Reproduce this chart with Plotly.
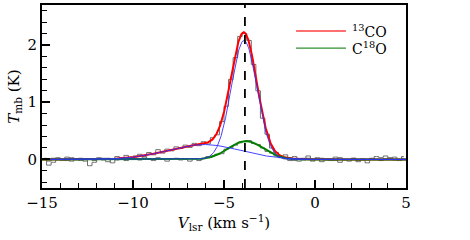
import numpy as np
import plotly.graph_objects as go

# channel centres (km/s)
v_chan = [-14.875 + 0.25 * i for i in range(80)]

co13_T = [0.02, -0.10, -0.05, 0.03, -0.02, 0.04, -0.03, 0.01, -0.02, 0.00,
          -0.11, -0.05, 0.03, -0.01, 0.02, -0.06, 0.05, 0.02, 0.07, 0.01,
          0.06, 0.09, 0.05, 0.12, 0.08, 0.17, 0.11, 0.18, 0.15, 0.22,
          0.19, 0.25, 0.21, 0.28, 0.24, 0.31, 0.27, 0.38, 0.43, 0.66,
          0.93, 1.40, 1.78, 2.15, 2.20, 2.08, 1.66, 1.20, 0.72, 0.44,
          0.20, 0.12, 0.03, 0.08, -0.02, 0.05, -0.03, 0.02, 0.06, -0.01,
          0.03, -0.04, 0.01, -0.02, 0.04, -0.05, 0.00, -0.03, 0.02, -0.04,
          -0.01, -0.06, 0.01, 0.05, 0.03, 0.06, 0.02, 0.04, -0.02, 0.05]

c18o_T = [0.01, -0.03, 0.02, -0.01, 0.00, -0.02, 0.03, -0.01, 0.02, -0.03,
          0.01, -0.02, 0.00, 0.02, -0.04, 0.01, -0.01, 0.03, -0.02, 0.00,
          0.02, -0.01, 0.04, 0.01, -0.02, 0.03, 0.00, -0.03, 0.01, 0.02,
          -0.01, 0.00, -0.03, 0.01, -0.02, 0.02, 0.05, 0.06, 0.09, 0.10,
          0.18, 0.21, 0.25, 0.29, 0.31, 0.33, 0.28, 0.26, 0.20, 0.14,
          0.11, 0.06, 0.05, 0.01, 0.03, -0.02, 0.01, -0.01, 0.02, -0.03,
          0.00, 0.02, -0.01, 0.01, -0.02, 0.03, -0.01, 0.00, 0.02, -0.02,
          0.01, -0.01, 0.02, 0.00, -0.02, 0.01, 0.03, -0.01, 0.00, 0.02]

# Gaussian fit components: (amplitude K, centre km/s, sigma km/s)
co13_narrow = [2.08, -3.90, 0.70]
co13_broad = [0.26, -6.10, 2.00]
c18o_fit = [0.32, -3.80, 0.95]

v_ref = -3.85

legend_names = ["<sup>13</sup>CO", "C<sup>18</sup>O"]
legend_colors = ["#ff4040", "#309030"]

def gauss(v, p):
    a, c, s = p
    return a * np.exp(-(v - c) ** 2 / (2 * s ** 2))

vf = np.linspace(-15, 5, 801)
n1 = gauss(vf, co13_narrow)
b1 = gauss(vf, co13_broad)
red = n1 + b1
grn = gauss(vf, c18o_fit)

fig = go.Figure()
fig.add_trace(go.Scatter(x=v_chan, y=co13_T, mode="lines", line=dict(shape="hvh", color="#6f6f6f", width=1), showlegend=False))
fig.add_trace(go.Scatter(x=v_chan, y=c18o_T, mode="lines", line=dict(shape="hvh", color="#6f6f6f", width=1), showlegend=False))
fig.add_trace(go.Scatter(x=vf, y=red, mode="lines", line=dict(color="#ff0000", width=2), showlegend=False))
fig.add_trace(go.Scatter(x=vf, y=grn, mode="lines", line=dict(color="#008000", width=2), showlegend=False))
fig.add_trace(go.Scatter(x=vf, y=n1, mode="lines", line=dict(color="#3030ff", width=0.9), showlegend=False))
fig.add_trace(go.Scatter(x=vf, y=b1, mode="lines", line=dict(color="#3030ff", width=0.9), showlegend=False))

fig.add_vline(x=v_ref, line=dict(color="black", width=1.8, dash="dash"))

font = "DejaVu Serif"

# manual legend (paper coordinates)
leg_y = [0.858, 0.764]
for name, col, yy in zip(legend_names, legend_colors, leg_y):
    fig.add_shape(type="line", xref="paper", yref="paper", x0=0.698, x1=0.835, y0=yy, y1=yy,
                  line=dict(color=col, width=1.3))
    fig.add_annotation(xref="paper", yref="paper", x=0.846, y=yy, text=name, showarrow=False,
                       xanchor="left", yanchor="middle", font=dict(family=font, size=14, color="black"))

axis_common = dict(showgrid=False, zeroline=False, showline=True, linecolor="black", linewidth=2,
                   mirror=True, ticks="inside", tickcolor="black", tickwidth=1.5, ticklen=8,
                   automargin=False,
                   tickfont=dict(family=font, size=15, color="black"))
fig.update_xaxes(range=[-15, 5], dtick=5, tick0=-15,
                 minor=dict(ticks="inside", dtick=1, ticklen=5, tickcolor="black", tickwidth=1.2),
                 title=dict(text="<i>V</i><sub>lsr</sub> (km s<sup>−1</sup>)", font=dict(family=font, size=15, color="black"), standoff=2),
                 **axis_common)
fig.update_yaxes(range=[-0.5, 2.7], dtick=1, tick0=0,
                 minor=dict(ticks="inside", dtick=0.2, ticklen=5, tickcolor="black", tickwidth=1.2),
                 title=dict(text="<i>T</i><sub>mb</sub> (K)", font=dict(family=font, size=15, color="black"), standoff=4),
                 **axis_common)
fig.update_layout(width=470, height=240, margin=dict(l=42, r=64, t=5, b=52),
                  plot_bgcolor="white", paper_bgcolor="white", showlegend=False)
fig.write_html("out.html", config={"displayModeBar": False},
               post_script="document.body.style.margin='0';document.body.style.padding='0';")
